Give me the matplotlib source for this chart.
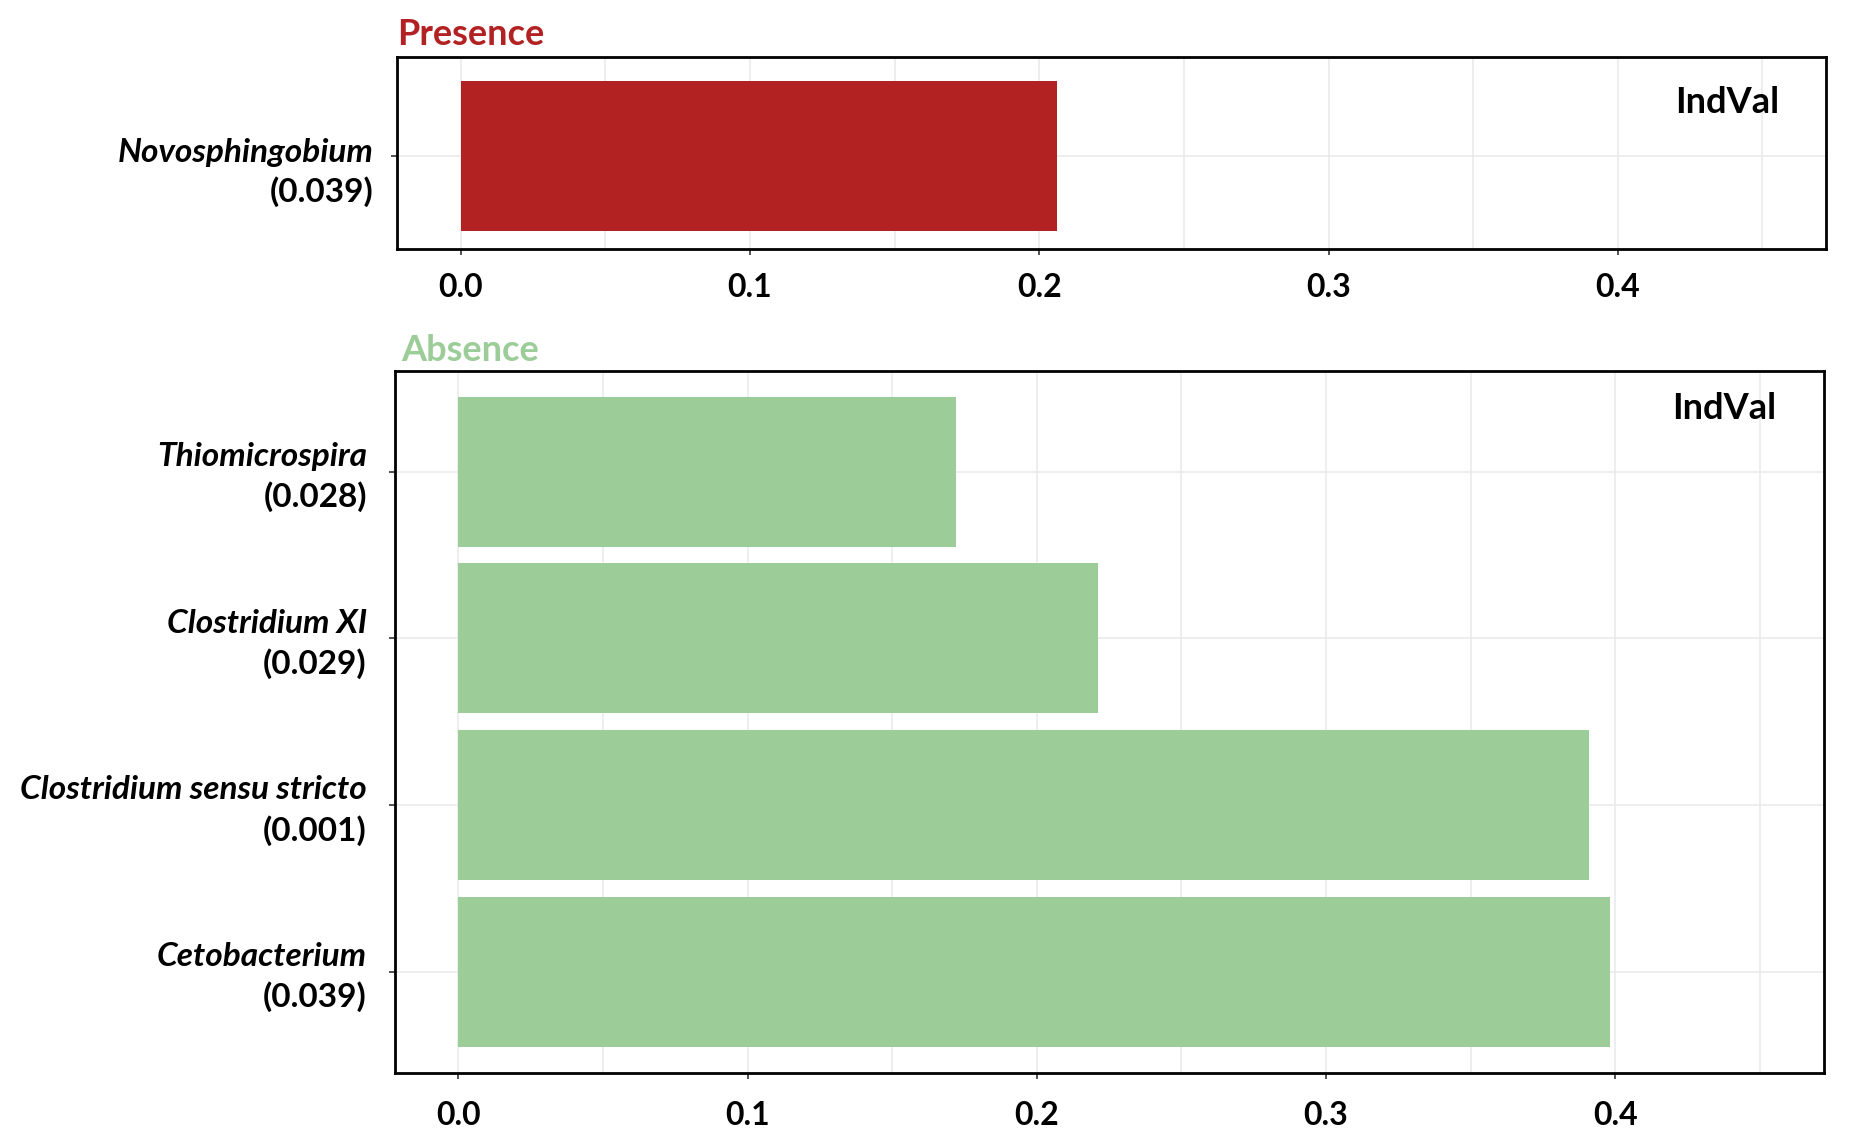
import matplotlib
matplotlib.use("Agg")
import matplotlib.pyplot as plt
from matplotlib.ticker import MultipleLocator

plt.rcParams['font.family'] = ['Lato', 'DejaVu Sans']

# ---- data ----
presence_taxa = ["Novosphingobium"]
presence_p = ["(0.039)"]
presence_indval = [0.206]

absence_taxa = ["Thiomicrospira", "Clostridium XI", "Clostridium sensu stricto", "Cetobacterium"]
absence_p = ["(0.028)", "(0.029)", "(0.001)", "(0.039)"]
absence_indval = [0.172, 0.221, 0.391, 0.398]

xticks = [0.0, 0.1, 0.2, 0.3, 0.4]
xticklabels = ["0.0", "0.1", "0.2", "0.3", "0.4"]

red = "#B22222"
green = "#9CCD99"
grid_c = "#EBEBEB"

fig = plt.figure(figsize=(18.58, 11.46), dpi=100)
ax1 = fig.add_axes([0.2137, 0.7828, 0.9828 - 0.2137, 0.9503 - 0.7828])
ax2 = fig.add_axes([0.2124, 0.0641, 0.9815 - 0.2124, 0.6763 - 0.0641])


def style(ax, xpad):
    ax.set_xlim(-0.022, 0.472)
    ax.set_xticks(xticks)
    ax.set_xticklabels(xticklabels)
    ax.xaxis.set_minor_locator(MultipleLocator(0.05))
    ax.grid(True, which='both', axis='x', color=grid_c, lw=1.2, zorder=0)
    ax.grid(True, which='major', axis='y', color=grid_c, lw=1.2, zorder=0)
    ax.set_axisbelow(True)
    ax.tick_params(axis='x', which='major', length=4, width=1.2, color='#333333',
                   pad=xpad, labelsize=23)
    ax.tick_params(axis='x', which='minor', length=0)
    ax.tick_params(axis='y', length=4, width=1.2, color='#333333', labelleft=False)
    for lab in ax.get_xticklabels():
        lab.set_fontweight('bold')
    for s in ax.spines.values():
        s.set_linewidth(2)
        s.set_color('black')


# ---- top panel ----
ypos1 = list(range(len(presence_taxa)))
ax1.barh(ypos1, presence_indval, height=0.9, color=red, zorder=2)
ax1.set_ylim(-0.556, 0.592)
ax1.set_yticks(ypos1)
style(ax1, 13.5)
for y, name, p in zip(ypos1, presence_taxa, presence_p):
    ax1.annotate(name, xy=(0, y), xycoords=('axes fraction', 'data'),
                 xytext=(-17, 2.5), textcoords='offset points', ha='right', va='center',
                 fontsize=24, fontweight='bold', style='italic')
    ax1.annotate(p, xy=(0, y), xycoords=('axes fraction', 'data'),
                 xytext=(-17, -25.5), textcoords='offset points', ha='right', va='center',
                 fontsize=24, fontweight='bold')
ax1.annotate("IndVal", xy=(1, 0.765), xycoords='axes fraction', xytext=(-34, 0),
             textcoords='offset points', ha='right', va='center', fontsize=26,
             fontweight='bold')

# ---- bottom panel ----
ypos2 = list(range(len(absence_taxa)))
ax2.barh(ypos2, absence_indval, height=0.9, color=green, zorder=2)
ax2.set_ylim(3.604, -0.604)
ax2.set_yticks(ypos2)
style(ax2, 16.5)
for y, name, p in zip(ypos2, absence_taxa, absence_p):
    ax2.annotate(name, xy=(0, y), xycoords=('axes fraction', 'data'),
                 xytext=(-20, 11), textcoords='offset points', ha='right', va='center',
                 fontsize=24, fontweight='bold', style='italic')
    ax2.annotate(p, xy=(0, y), xycoords=('axes fraction', 'data'),
                 xytext=(-20, -18), textcoords='offset points', ha='right', va='center',
                 fontsize=24, fontweight='bold')
ax2.annotate("IndVal", xy=(1, 0.946), xycoords='axes fraction', xytext=(-34, 0),
             textcoords='offset points', ha='right', va='center', fontsize=26,
             fontweight='bold')

# ---- panel titles ----
fig.text(0.2137, 0.970, "Presence", color=red, fontsize=26, fontweight='bold',
         ha='left', va='center')
fig.text(0.2162, 0.694, "Absence", color=green, fontsize=26, fontweight='bold',
         ha='left', va='center')

fig.savefig("out.png", dpi=100)
